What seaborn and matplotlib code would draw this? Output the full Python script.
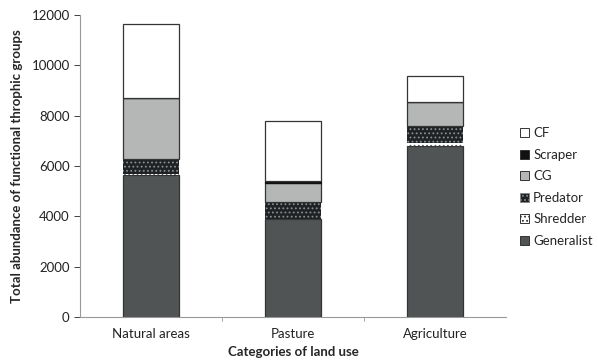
import matplotlib
matplotlib.use("Agg")
import matplotlib.pyplot as plt
import pandas as pd
import seaborn as sns
from matplotlib.patches import Patch

land_use = ["Natural areas", "Pasture", "Agriculture"]
generalist = [5640, 3880, 6800]
shredder = [60, 20, 100]
predator = [580, 660, 690]
cg = [2440, 780, 940]
scraper = [0, 80, 0]
cf = [2930, 2380, 1045]

groups = ["Generalist", "Shredder", "Predator", "CG", "Scraper", "CF"]
values = [generalist, shredder, predator, cg, scraper, cf]

styles = {
    "Generalist": dict(color="#505454", edgecolor="#333535", hatch=None),
    "Shredder": dict(color="white", edgecolor="#555555", hatch="...."),
    "Predator": dict(color="#1e2224", edgecolor="#8a8e8e", hatch="...."),
    "CG": dict(color="#b5b7b7", edgecolor="#333535", hatch=None),
    "Scraper": dict(color="#111111", edgecolor="#111111", hatch=None),
    "CF": dict(color="white", edgecolor="#333535", hatch=None),
}

rows = []
for g, vals in zip(groups, values):
    for lu, v in zip(land_use, vals):
        rows.append({"land_use": lu, "group": g, "value": v})
df = pd.DataFrame(rows)

sns.set_style("white")
plt.rcParams["font.family"] = ["Lato", "DejaVu Sans"]
plt.rcParams["hatch.linewidth"] = 0.8

fig, ax = plt.subplots(figsize=(5.98, 3.62), dpi=100)
fig.subplots_adjust(left=0.134, right=0.846, bottom=0.124, top=0.9586)

bottom = pd.Series([0.0] * len(land_use), index=land_use)
for g in groups:
    sub = df[df["group"] == g].set_index("land_use").loc[land_use]
    st = styles[g]
    lw = 0.0 if g in ("Predator", "Shredder") else 0.9
    sns.barplot(x=land_use, y=sub["value"].values, ax=ax, bottom=bottom.values,
                color=st["color"], edgecolor=st["edgecolor"], hatch=st["hatch"],
                linewidth=lw, width=0.4, saturation=1)
    bottom = bottom + sub["value"].values

ax.set_ylim(0, 12000)
ax.set_xlim(-0.5, 2.5)
ax.set_yticks(range(0, 12001, 2000))
ax.set_xticks([0, 1, 2])
ax.set_xticklabels(land_use)
ax.tick_params(axis="x", length=0, labelsize=9.5, pad=8, colors="#222222")
ax.tick_params(axis="y", length=4, labelsize=9.5, colors="#222222", left=True, width=0.6)
for t in ax.get_yticklines():
    t.set_color("#999999")
for x in [0.5, 1.5]:
    ax.plot([x, x], [0, -150], color="#999999", lw=0.6, clip_on=False)

sns.despine(ax=ax)
for s in ["left", "bottom"]:
    ax.spines[s].set_color("#999999")
    ax.spines[s].set_linewidth(0.8)

ax.set_xlabel("Categories of land use", fontsize=9.5, fontweight="bold", labelpad=4)
ax.set_ylabel("Total abundance of functional throphic groups", fontsize=9.5,
              fontweight="bold", labelpad=6)

handles = []
for g in reversed(groups):
    st = styles[g]
    handles.append(Patch(facecolor=st["color"], edgecolor="#333333" if g != "Predator" else "#888888",
                         hatch=st["hatch"], linewidth=0.7, label=g))
ax.legend(handles=handles, loc="center left", bbox_to_anchor=(1.005, 0.43),
          frameon=False, fontsize=9.5, handlelength=0.7, handleheight=0.7,
          handletextpad=0.3, labelspacing=0.72)

fig.savefig("out.png", dpi=100)
